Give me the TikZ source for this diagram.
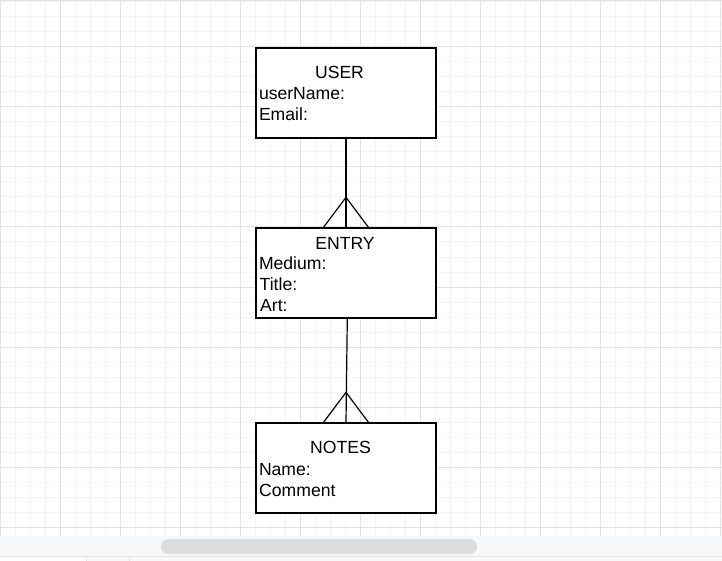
\documentclass[tikz,border=0pt]{standalone}
\usepackage{fontspec}
\setmainfont{Liberation Sans}
\definecolor{gridminor}{HTML}{F4F4F4}
\definecolor{gridmajor}{HTML}{E2E2E2}
\definecolor{barbg}{HTML}{F7F8FA}
\definecolor{barthumb}{HTML}{DCDDDF}
\definecolor{barline}{HTML}{E4E4E7}
\tikzset{
  entity/.style={draw=black, line width=1.2pt, fill=white, minimum width=180pt, minimum height=90pt, inner sep=0pt},
  etitle/.style={anchor=base, inner sep=0pt, font=\fontsize{17.6}{21}\selectfont},
  attr/.style={anchor=base west, inner sep=0pt, font=\fontsize{17.6}{21}\selectfont},
  rel/.style={line width=1.2pt}
}

\begin{document}
\begin{tikzpicture}[x=1pt, y=-1pt]
  \useasboundingbox (0,0) rectangle (722,561);
  % grid
  \fill[white] (0,0) rectangle (722,536);
  \foreach \x in {15,30,...,720} \draw[gridminor, line width=1pt] (\x,0) -- (\x,536);
  \foreach \y in {2,17,...,536} \draw[gridminor, line width=1pt] (0,\y) -- (722,\y);
  \foreach \x in {0,60,...,720} \draw[gridmajor, line width=1pt] (\x,0) -- (\x,536);
  \foreach \y in {47,107,...,536} \draw[gridmajor, line width=1pt] (0,\y) -- (722,\y);
  \draw[gridmajor, line width=1pt] (0,0.5) -- (722,0.5);
  % scroll bar
  \fill[barbg] (0,536) rectangle (722,556);
  \fill[barthumb, rounded corners=7pt] (161,539) rectangle (477,554);
  \fill[barline] (0,556) rectangle (722,557);
  \fill[barbg] (86,557) rectangle (722,561);
  \draw[barline] (86,557) -- (86,561) (129,557) -- (129,561);
  % entities
  \node[entity] (user) at (346,93) {};
  \node[entity] (entry) at (346,273) {};
  \node[entity] (notes) at (346,468) {};
  \node[etitle] (userT) at (339.5,79) {USER};
  \node[attr] (userName) at (258.8,100) {userName:};
  \node[attr] (userEmail) at (258.8,121) {Email:};
  \node[etitle] (entryT) at (345,249.5) {ENTRY};
  \node[attr] (entryMedium) at (258.8,269.5) {Medium:};
  \node[attr] (entryTitle) at (259.5,290.5) {Title:};
  \node[attr] (entryArt) at (260,311.5) {Art:};
  \node[etitle] (notesT) at (340.5,453.5) {NOTES};
  \node[attr] (notesName) at (258.8,475) {Name:};
  \node[attr] (notesComment) at (259,496) {Comment};
  % relations
  \draw[rel] (user.south) -- (entry.north);
  \draw[rel] ([xshift=-22.5pt]entry.north) -- ([yshift=30pt]entry.north) -- ([xshift=22.5pt]entry.north);
  \draw[rel] ([xshift=1.3pt]entry.south) -- (notes.north);
  \draw[rel] ([xshift=-22.5pt]notes.north) -- ([yshift=30pt]notes.north) -- ([xshift=22.5pt]notes.north);
\end{tikzpicture}
\end{document}
